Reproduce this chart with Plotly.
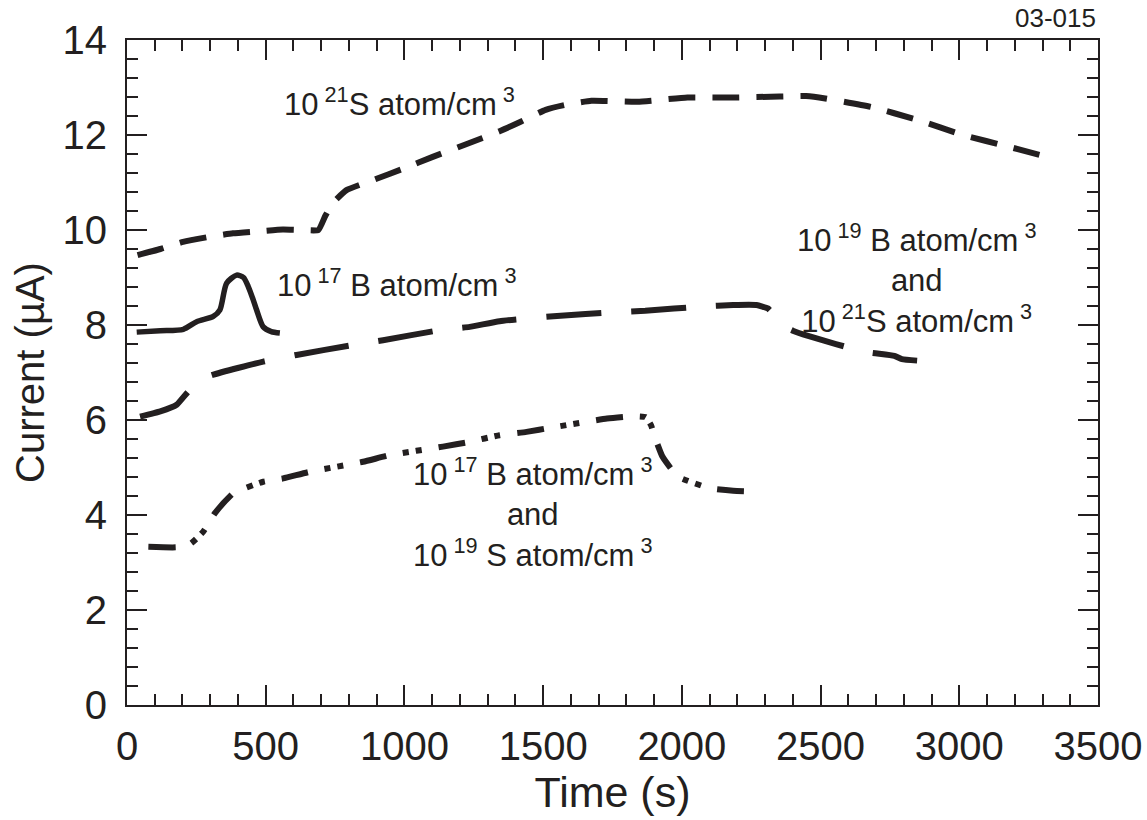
import plotly.graph_objects as go

# ---- data ----
s21_time = [38, 120, 202, 290, 382, 470, 562, 634, 690, 715, 742, 791, 886, 1000, 1102, 1220,
            1343, 1419, 1509, 1577, 1674, 1840, 2020, 2186, 2352, 2448, 2517, 2683, 2848, 3014, 3180, 3304]
s21_current = [9.47, 9.60, 9.75, 9.85, 9.93, 9.97, 10.01, 10.0, 10.0, 10.3, 10.57, 10.84, 11.05, 11.3, 11.54, 11.8,
               12.08, 12.28, 12.53, 12.63, 12.72, 12.70, 12.79, 12.79, 12.81, 12.82, 12.77, 12.59, 12.32, 12.0, 11.75, 11.56]

b17_time = [35, 120, 203, 251, 311, 335, 359, 395, 420, 437, 455, 467, 491, 520, 551]
b17_current = [7.85, 7.88, 7.91, 8.07, 8.18, 8.32, 8.88, 9.05, 9.0, 8.81, 8.53, 8.32, 7.96, 7.86, 7.83]

b19s21_time = [47, 120, 179, 221, 260, 299, 491, 611, 815, 923, 1127, 1235, 1343, 1550, 1757, 1868,
               2075, 2185, 2269, 2310, 2337, 2358, 2400, 2455, 2655, 2766, 2793, 2848]
b19s21_current = [6.07, 6.18, 6.32, 6.6, 6.78, 6.93, 7.23, 7.37, 7.58, 7.68, 7.89, 7.96, 8.08, 8.19, 8.27, 8.30,
                  8.39, 8.42, 8.42, 8.35, 8.18, 8.0, 7.88, 7.77, 7.44, 7.35, 7.28, 7.25]

b17s19_time = [77, 179, 230, 275, 317, 383, 491, 563, 659, 851, 947, 1139, 1235, 1343, 1440, 1530,
               1730, 1827, 1870, 1889, 1902, 1930, 1985, 2103, 2185, 2282]
b17s19_current = [3.33, 3.32, 3.4, 3.65, 4.04, 4.46, 4.70, 4.77, 4.91, 5.12, 5.26, 5.44, 5.54, 5.68, 5.75, 5.84,
                  6.03, 6.08, 6.06, 5.89, 5.65, 5.23, 4.81, 4.56, 4.51, 4.49]

x_ticks = [0, 500, 1000, 1500, 2000, 2500, 3000, 3500]
y_ticks = [0, 2, 4, 6, 8, 10, 12, 14]

INK = "#231f20"
FONT = "Liberation Sans, Arial, sans-serif"

fig = go.Figure()
fig.add_trace(go.Scatter(x=s21_time, y=s21_current, mode="lines",
                         line=dict(color=INK, width=6, dash="27px,17px", shape="spline", smoothing=0.4)))
fig.add_trace(go.Scatter(x=b17_time, y=b17_current, mode="lines",
                         line=dict(color=INK, width=5.5, shape="spline", smoothing=0.7)))
fig.add_trace(go.Scatter(x=b19s21_time, y=b19s21_current, mode="lines",
                         line=dict(color=INK, width=6, dash="55px,30px", shape="spline", smoothing=0.4)))
fig.add_trace(go.Scatter(x=b17s19_time, y=b17s19_current, mode="lines",
                         line=dict(color=INK, width=6, dash="27px,17px,6px,7px,6px,17px",
                                   shape="spline", smoothing=0.4)))

ann_font = dict(family=FONT, size=31, color=INK)
fig.add_annotation(x=558, y=12.70, xref="x", yref="y", xanchor="left", yanchor="middle",
                   text="10<sup> 21</sup>S atom/cm<sup> 3</sup>", showarrow=False, font=ann_font)
fig.add_annotation(x=533, y=8.88, xref="x", yref="y", xanchor="left", yanchor="middle",
                   text="10<sup> 17</sup> B atom/cm<sup> 3</sup>", showarrow=False, font=ann_font)
fig.add_annotation(x=2849, y=8.98, xref="x", yref="y", xanchor="center", yanchor="middle",
                   text="10<sup> 19</sup> B atom/cm<sup> 3</sup><br>and<br>10<sup> 21</sup>S atom/cm<sup> 3</sup>",
                   showarrow=False, font=ann_font, align="center")
fig.add_annotation(x=1462, y=4.05, xref="x", yref="y", xanchor="center", yanchor="middle",
                   text="10<sup> 17</sup> B atom/cm<sup> 3</sup><br>and<br>10<sup> 19</sup> S atom/cm<sup> 3</sup>",
                   showarrow=False, font=ann_font, align="center")
fig.add_annotation(x=1.0, y=1.058, xref="paper", yref="paper", xanchor="right", yanchor="top",
                   text="03-015", showarrow=False, font=dict(family=FONT, size=26, color=INK))

axis_common = dict(showline=True, linecolor=INK, linewidth=2, mirror="ticks", ticks="inside",
                   tickcolor=INK, tickwidth=2, ticklen=20, showgrid=False, zeroline=False,
                   tickfont=dict(family=FONT, size=40, color=INK))

fig.update_xaxes(range=[0, 3500], tickvals=x_ticks, ticktext=[str(v) for v in x_ticks],
                 minor=dict(dtick=100, tick0=0, ticks="inside", ticklen=11, tickwidth=2, tickcolor=INK, showgrid=False),
                 title=dict(text="Time (s)", font=dict(family=FONT, size=43, color=INK), standoff=5),
                 ticklabelstandoff=5, **axis_common)
fig.update_yaxes(range=[0, 14], tickvals=y_ticks, ticktext=[str(v) for v in y_ticks],
                 minor=dict(dtick=0.4, tick0=0, ticks="inside", ticklen=11, tickwidth=2, tickcolor=INK, showgrid=False),
                 title=dict(text="Current (µA)", font=dict(family=FONT, size=40, color=INK), standoff=6),
                 ticklabelstandoff=10, **axis_common)

fig.update_layout(width=1147, height=820, showlegend=False,
                  paper_bgcolor="white", plot_bgcolor="white",
                  margin=dict(l=127, r=49, t=40, b=115, autoexpand=False))

fig.write_html("out.html")
